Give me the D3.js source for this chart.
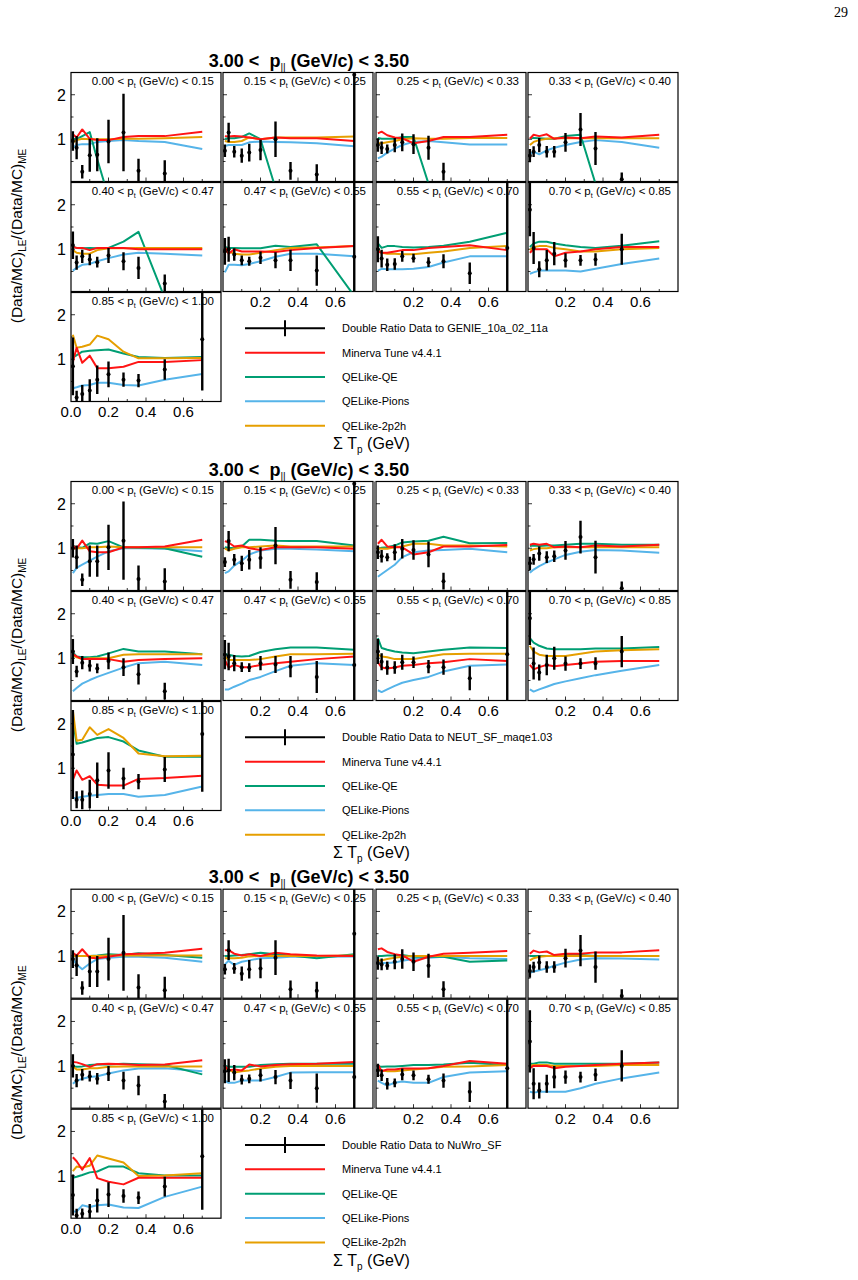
<!DOCTYPE html>
<html><head><meta charset="utf-8">
<script src="https://cdn.jsdelivr.net/npm/d3@7"></script>
<style>
body{margin:0;background:#fff}
svg{display:block}
text{font-family:"Liberation Sans",Arial,Helvetica,sans-serif;fill:#000}
</style>
</head><body>
<svg id="c" width="858" height="1280"></svg>
<script>
// ---------------- data ----------------
const xCenters = [0.01,0.03,0.06,0.10,0.14,0.20,0.28,0.36,0.50,0.70];
const ptEdges = ["0.00","0.15","0.25","0.33","0.40","0.47","0.55","0.70","0.85","1.00"];
const generators = ["GENIE_10a_02_11a","NEUT_SF_maqe1.03","NuWro_SF"];
const seriesNames = ["Minerva Tune v4.4.1","QELike-QE","QELike-Pions","QELike-2p2h"];
const seriesColors = ["#ff1414","#009e73","#56b4e9","#e69f00"];
const xTickVals = [0.0,0.2,0.4,0.6];
const yTickVals = [1,2];
const pZLabel = "3.00 < ";
const pZUpper = " (GeV/c) < 3.50";

// Block 1: GENIE
const genieRatio = [
 [0.96,0.81,0.27,0.64,0.65,0.95,1.15,0.29,0.23,null],
 [0.74,1.15,0.72,0.63,0.70,0.76,1.00,0.29,0.21,2.45],
 [0.87,0.81,0.78,0.87,0.93,0.89,0.81,0.27,null,null],
 [0.63,0.72,0.87,0.72,0.72,0.93,1.22,0.79,0.10,null],
 [1.09,0.70,0.84,0.77,0.71,0.86,0.73,0.58,0.23,null],
 [0.95,1.00,0.88,0.75,0.73,0.81,0.75,0.75,0.52,0.83],
 [1.00,0.79,0.65,0.67,0.84,0.80,0.71,0.73,0.46,1.03],
 [1.89,1.03,0.55,0.75,0.90,0.75,0.75,0.77,1.00,null],
 [0.84,0.14,0.22,0.30,0.54,0.66,0.54,0.52,0.77,1.45]];
const genieErr = [
 [0.22,0.26,0.15,0.37,0.37,0.49,0.87,0.27,0.30,null],
 [0.14,0.22,0.13,0.16,0.20,0.23,0.40,0.20,0.23,2.8],
 [0.15,0.14,0.10,0.16,0.20,0.22,0.27,0.20,null,null],
 [0.15,0.12,0.16,0.13,0.13,0.21,0.37,0.37,0.15,null],
 [0.31,0.16,0.15,0.13,0.12,0.17,0.20,0.25,0.20,null],
 [0.30,0.28,0.14,0.11,0.10,0.14,0.18,0.24,0.34,2.0],
 [0.29,0.20,0.14,0.13,0.12,0.10,0.11,0.16,0.24,2.0],
 [0.60,0.36,0.18,0.23,0.26,0.16,0.12,0.14,0.35,null],
 [0.65,0.15,0.20,0.25,0.32,0.29,0.16,0.15,0.23,1.15]];
const genieTune = [
 [1.11,1.04,1.22,1.01,0.98,0.98,1.05,1.07,1.07,1.17],
 [1.07,1.06,1.07,1.06,1.04,1.00,1.04,1.02,1.02,0.96],
 [1.13,1.17,1.09,1.04,1.02,0.91,0.96,1.05,1.05,1.10],
 [1.01,1.10,1.07,1.11,1.01,1.04,1.02,1.06,1.04,1.10],
 [1.05,1.03,1.03,0.98,1.03,1.03,1.03,1.00,1.00,1.00],
 [1.05,0.90,1.00,0.95,0.95,0.95,0.94,0.98,1.03,1.07],
 [0.95,0.92,0.92,0.95,0.98,0.98,1.03,1.05,1.09,0.98],
 [0.92,1.00,1.00,1.00,0.84,0.92,0.95,1.00,1.05,1.05],
 [0.94,1.26,0.92,1.08,0.80,0.80,0.83,0.94,0.94,0.98]];
const genieQE = [
 [1.01,1.00,1.07,1.16,0.55,-0.30,-1,-1,-1,-1],
 [1.01,1.02,1.02,1.05,1.13,1.00,-0.10,-1,-1,-1],
 [1.03,1.01,1.01,1.01,1.05,1.05,0.00,-1,-1,-1],
 [1.01,1.03,1.02,1.01,1.01,1.07,1.10,0.00,-1,-1],
 [1.05,1.03,1.02,1.03,1.02,1.03,1.17,1.39,-0.10,-1],
 [1.05,1.03,1.03,1.02,1.02,1.02,1.08,1.05,1.11,-0.05],
 [1.13,1.03,1.07,1.07,1.05,1.04,1.05,1.08,1.17,1.37],
 [1.05,1.13,1.17,1.17,1.13,1.09,1.05,1.03,1.08,1.18],
 [1.05,1.09,1.17,1.19,1.20,1.22,1.13,1.05,1.03,1.05]];
const geniePions = [
 [0.81,0.87,0.89,0.89,0.94,0.96,0.98,0.96,0.94,0.78],
 [0.85,0.87,0.87,0.87,0.93,0.95,0.94,0.93,0.91,0.84],
 [0.57,0.61,0.70,0.79,0.87,0.94,0.96,0.93,0.88,0.88],
 [0.66,0.72,0.66,0.75,0.81,0.87,0.94,0.98,0.94,0.81],
 [0.52,0.58,0.65,0.67,0.73,0.80,0.88,0.92,0.90,0.86],
 [0.48,0.65,0.65,0.64,0.67,0.73,0.83,0.90,0.90,0.84],
 [0.52,0.56,0.55,0.55,0.55,0.56,0.60,0.70,0.84,0.84],
 [0.45,0.48,0.52,0.52,0.52,0.52,0.50,0.56,0.67,0.79],
 [0.35,0.37,0.41,0.42,0.47,0.47,0.42,0.41,0.54,0.67]];
const genie2p2h = [
 [0.93,0.98,1.01,1.00,1.00,1.00,1.01,1.01,1.02,1.05],
 [0.96,0.94,0.94,0.96,1.04,1.00,1.04,1.04,1.04,1.06],
 [0.91,0.91,0.93,0.96,1.00,1.02,1.01,1.01,1.03,1.03],
 [0.87,0.94,0.98,1.01,1.02,1.02,1.02,1.02,1.02,1.02],
 [0.98,0.92,0.90,0.90,0.98,1.02,1.02,1.03,1.03,1.03],
 [0.95,0.95,0.90,0.88,0.88,0.92,0.98,1.03,1.04,1.07],
 [0.98,0.92,0.90,0.90,0.89,0.89,0.92,0.95,1.03,1.07],
 [0.98,1.05,1.07,1.07,1.03,1.00,0.95,0.95,1.00,1.03],
 [1.55,1.26,1.28,1.33,1.53,1.45,1.17,1.02,1.02,1.03]];

// Block 2: NEUT
const neutRatio = [
 [1.00,0.80,0.29,0.71,0.71,1.02,1.17,0.31,0.25,null],
 [0.69,1.16,0.74,0.66,0.74,0.78,1.06,0.29,0.24,2.45],
 [0.91,0.82,0.80,0.91,0.99,0.96,0.86,0.26,null,null],
 [0.66,0.75,0.88,0.80,0.82,0.95,1.25,0.80,0.10,null],
 [1.15,0.70,0.90,0.83,0.77,0.94,0.80,0.64,0.26,null],
 [1.08,1.04,0.89,0.80,0.79,0.89,0.86,0.81,0.58,0.85],
 [1.15,0.92,0.79,0.79,0.91,0.91,0.81,0.80,0.55,1.09],
 [1.90,0.88,0.68,0.85,1.00,0.88,0.88,0.88,1.15,null],
 [1.31,0.29,0.29,0.42,0.73,0.95,0.77,0.70,0.97,1.77]];
const neutErr = [
 [0.21,0.26,0.14,0.35,0.35,0.51,0.88,0.30,0.30,null],
 [0.11,0.23,0.13,0.17,0.22,0.24,0.42,0.20,0.22,2.8],
 [0.15,0.14,0.09,0.18,0.22,0.22,0.29,0.19,null,null],
 [0.15,0.12,0.16,0.13,0.13,0.21,0.37,0.37,0.15,null],
 [0.28,0.13,0.15,0.13,0.11,0.19,0.20,0.23,0.19,null],
 [0.33,0.31,0.18,0.11,0.10,0.16,0.19,0.24,0.36,2.0],
 [0.28,0.19,0.16,0.14,0.17,0.13,0.15,0.17,0.27,2.0],
 [0.60,0.36,0.18,0.23,0.26,0.16,0.12,0.14,0.35,null],
 [1.00,0.19,0.21,0.32,0.40,0.41,0.24,0.17,0.28,1.30]];
const neutTune = [
 [1.06,0.99,1.17,0.93,0.91,0.91,1.02,1.02,1.04,1.19],
 [1.16,1.13,1.04,1.06,1.00,0.96,1.02,1.02,1.02,0.99],
 [1.10,1.19,1.04,1.02,1.02,0.86,0.91,1.04,1.04,1.07],
 [1.08,1.10,1.08,1.10,1.02,1.04,1.02,1.06,1.04,1.08],
 [1.09,1.04,0.98,0.98,0.98,0.98,0.92,0.96,0.98,1.00],
 [0.96,0.79,0.85,0.80,0.80,0.85,0.89,0.92,0.98,1.04],
 [0.91,0.79,0.77,0.79,0.83,0.85,0.89,0.91,0.98,0.94],
 [0.85,0.75,0.80,0.85,0.82,0.85,0.88,0.92,0.94,0.94],
 [0.74,0.95,0.74,0.82,0.63,0.61,0.61,0.76,0.78,0.83]];
const neutQE = [
 [1.06,1.02,1.01,1.11,1.10,1.16,1.02,1.01,1.00,0.81],
 [1.02,1.01,1.00,1.04,1.19,1.19,1.17,1.16,1.16,1.06],
 [0.99,1.01,1.02,1.06,1.13,1.15,1.17,1.26,1.11,1.12],
 [1.05,1.06,1.05,1.06,1.06,1.08,1.10,1.10,1.08,1.08],
 [1.13,1.04,1.02,1.02,1.04,1.11,1.21,1.15,1.15,1.09],
 [1.09,1.08,1.05,1.04,1.05,1.14,1.20,1.24,1.24,1.19],
 [1.45,1.23,1.19,1.15,1.13,1.11,1.15,1.19,1.24,1.23],
 [1.45,1.35,1.28,1.22,1.20,1.20,1.20,1.22,1.22,1.25],
 [2.10,1.55,1.58,1.63,1.68,1.70,1.60,1.40,1.26,1.26]];
const neutPions = [
 [0.44,0.56,0.63,0.72,0.81,0.93,1.00,1.00,0.99,0.93],
 [0.44,0.48,0.61,0.72,0.86,0.95,0.99,0.99,0.97,0.93],
 [0.36,0.42,0.51,0.63,0.80,0.91,0.95,0.96,0.99,0.91],
 [0.45,0.52,0.60,0.68,0.75,0.85,0.92,0.96,0.95,0.90],
 [0.26,0.33,0.43,0.51,0.58,0.67,0.79,0.89,0.92,0.85],
 [0.30,0.30,0.36,0.43,0.51,0.58,0.71,0.83,0.89,0.85],
 [0.28,0.24,0.30,0.38,0.45,0.51,0.58,0.70,0.83,0.86],
 [0.30,0.25,0.30,0.36,0.42,0.48,0.55,0.62,0.72,0.85],
 [0.33,0.33,0.36,0.38,0.40,0.42,0.42,0.36,0.40,0.59]];
const neut2p2h = [
 [0.99,1.00,1.00,1.02,1.02,1.04,1.02,1.02,1.02,1.02],
 [0.99,0.95,0.99,1.02,1.02,1.04,1.06,1.04,1.04,1.04],
 [1.00,0.99,0.99,1.02,1.04,1.10,1.10,1.06,1.06,1.04],
 [0.95,0.98,1.00,1.00,1.02,1.02,1.02,1.02,1.02,1.02],
 [1.08,1.02,0.98,1.00,1.00,1.00,1.08,1.09,1.09,1.09],
 [1.04,0.96,0.96,0.96,0.96,0.98,1.04,1.09,1.09,1.10],
 [1.08,1.04,1.02,0.98,0.98,0.98,1.04,1.09,1.10,1.10],
 [1.28,1.15,1.08,1.05,1.05,1.05,1.10,1.15,1.18,1.20],
 [2.30,1.62,1.64,1.92,1.75,1.88,1.68,1.33,1.27,1.28]];

// Block 3: NuWro
const nuwroRatio = [
 [0.93,0.79,0.28,0.65,0.65,0.93,1.07,0.29,0.23,null],
 [0.70,1.13,0.72,0.60,0.70,0.72,0.96,0.25,0.22,1.50],
 [0.84,0.81,0.78,0.87,0.93,0.87,0.78,0.25,null,null],
 [0.66,0.75,0.85,0.75,0.75,0.95,1.12,0.75,0.10,null],
 [1.00,0.67,0.80,0.77,0.71,0.83,0.67,0.56,0.20,null],
 [0.88,0.90,0.85,0.69,0.71,0.79,0.75,0.67,0.50,0.75],
 [0.90,0.79,0.60,0.62,0.81,0.79,0.70,0.67,0.42,0.95],
 [1.55,0.60,0.45,0.60,0.75,0.75,0.75,0.80,1.00,null],
 [0.57,0.11,0.15,0.20,0.45,0.58,0.55,0.51,0.76,1.44]];
const nuwroErr = [
 [0.20,0.24,0.15,0.35,0.35,0.48,0.85,0.30,0.30,null],
 [0.12,0.22,0.12,0.16,0.21,0.22,0.39,0.20,0.20,2.5],
 [0.15,0.13,0.09,0.17,0.22,0.21,0.27,0.18,null,null],
 [0.15,0.12,0.16,0.13,0.13,0.21,0.35,0.35,0.15,null],
 [0.26,0.15,0.13,0.12,0.13,0.17,0.20,0.22,0.17,null],
 [0.27,0.26,0.17,0.11,0.10,0.14,0.16,0.19,0.33,2.0],
 [0.15,0.13,0.13,0.10,0.13,0.11,0.10,0.16,0.23,2.0],
 [0.70,0.35,0.18,0.20,0.25,0.15,0.12,0.14,0.35,null],
 [0.46,0.15,0.12,0.17,0.27,0.28,0.15,0.14,0.22,1.20]];
const nuwroTune = [
 [1.07,1.01,1.15,0.96,0.95,0.98,1.04,1.05,1.07,1.16],
 [1.13,1.13,1.05,1.01,1.04,1.00,1.07,1.04,1.01,1.00],
 [1.15,1.17,1.09,1.04,1.01,0.87,0.98,1.05,1.07,1.11],
 [1.05,1.12,1.08,1.10,1.02,1.05,1.05,1.08,1.08,1.13],
 [1.09,1.08,1.04,0.98,1.04,1.05,1.04,1.02,1.03,1.13],
 [1.00,0.90,0.92,0.90,1.03,0.99,1.02,1.04,1.05,1.09],
 [1.03,0.88,0.92,0.92,0.94,0.94,0.95,1.00,1.11,1.05],
 [0.95,1.00,1.00,1.00,0.95,0.98,1.00,1.02,1.05,1.08],
 [1.42,1.33,1.14,1.40,0.95,0.87,0.81,0.96,0.96,0.96]];
const nuwroQE = [
 [1.01,1.00,1.00,1.00,1.01,1.04,1.02,1.06,1.02,0.96],
 [1.00,1.00,1.01,1.02,1.04,1.07,1.04,1.01,0.95,1.04],
 [1.00,1.00,1.01,1.01,1.02,0.98,0.98,0.98,0.87,0.90],
 [1.00,1.00,1.00,1.00,1.00,1.02,1.02,1.00,1.00,1.00],
 [0.99,0.98,0.99,1.02,1.03,1.03,1.05,1.04,1.02,0.81],
 [1.00,0.98,0.98,0.98,0.98,1.02,1.04,1.05,1.05,1.05],
 [0.99,0.98,0.99,0.99,1.00,1.02,1.02,1.03,1.07,1.02],
 [1.05,1.05,1.08,1.08,1.05,1.05,1.05,1.05,1.05,1.08],
 [0.96,0.98,1.02,1.08,1.10,1.21,1.21,1.06,1.01,1.01]];
const nuwroPions = [
 [0.93,0.81,0.70,0.83,0.93,0.96,0.98,0.98,0.96,0.87],
 [0.81,0.89,0.80,0.87,0.90,0.95,0.96,0.98,0.98,0.99],
 [0.81,0.84,0.84,0.85,0.89,0.93,0.96,0.98,0.95,0.93],
 [0.62,0.65,0.68,0.72,0.78,0.85,0.92,0.95,0.94,0.92],
 [0.60,0.67,0.71,0.75,0.77,0.83,0.90,0.94,0.95,0.88],
 [0.67,0.62,0.62,0.67,0.67,0.67,0.75,0.85,0.86,0.86],
 [0.67,0.62,0.56,0.62,0.65,0.62,0.62,0.75,0.85,0.88],
 [0.42,0.40,0.42,0.42,0.42,0.42,0.50,0.60,0.72,0.85],
 [0.20,0.20,0.34,0.30,0.34,0.36,0.29,0.28,0.53,0.76]];
const nuwro2p2h = [
 [1.00,1.00,1.00,1.00,1.00,1.01,1.01,1.01,1.01,1.01],
 [0.95,0.95,0.95,0.96,0.99,1.00,1.00,1.00,1.00,1.01],
 [0.90,0.90,0.93,0.96,0.98,1.00,1.00,1.00,1.00,1.00],
 [0.90,0.95,0.98,1.00,1.00,1.00,1.00,1.00,1.00,1.00],
 [0.99,0.92,0.92,0.95,0.95,0.98,0.99,0.99,0.99,0.99],
 [0.95,0.92,0.85,0.88,0.90,0.94,0.98,1.00,1.00,1.00],
 [0.92,0.90,0.88,0.88,0.90,0.92,0.95,0.98,0.99,1.02],
 [1.00,1.02,1.02,1.02,1.00,1.00,1.00,1.00,1.02,1.02],
 [1.11,1.21,1.19,1.23,1.46,1.39,1.30,1.00,1.01,1.06]];

// ---------------- drawing ----------------
const blocks = [
  {gen: generators[0], ratio: genieRatio, err: genieErr, series: [genieTune, genieQE, geniePions, genie2p2h]},
  {gen: generators[1], ratio: neutRatio, err: neutErr, series: [neutTune, neutQE, neutPions, neut2p2h]},
  {gen: generators[2], ratio: nuwroRatio, err: nuwroErr, series: [nuwroTune, nuwroQE, nuwroPions, nuwro2p2h]}
];
const blockOffset = [0, 409, 816.7];
const colLeft = [71, 223, 376, 528];
const rowTop = [72.5, 182.5, 292.5];
const PW = 150, PH = 109;

const svg = d3.select("#c");
svg.append("rect").attr("width",858).attr("height",1280).attr("fill","#fff");

// page number
svg.append("text").attr("x",848).attr("y",17).attr("text-anchor","end")
  .style("font-family","'Liberation Serif','DejaVu Serif',serif").style("font-size","14px").text("29");

const xs = d3.scaleLinear().domain([0,0.8]).range([0,PW]);
const ys = d3.scaleLinear().domain([0.05,2.5]).range([PH,0]);

let clipId = 0;
const drawOrder = [2,1,3,0]; // pions, QE, 2p2h, tune (tune on top)

blocks.forEach((blk, b) => {
  const off = blockOffset[b];
  const g = svg.append("g").attr("transform",`translate(0,${off})`);

  // title
  const t = g.append("text").attr("x",309).attr("y",66.5).attr("text-anchor","middle")
    .style("font-weight","bold").style("font-size","18px");
  t.append("tspan").text(pZLabel + "\u00A0p");
  t.append("tspan").attr("dy",4).style("font-size","10px").style("font-weight","normal").text("||");
  t.append("tspan").attr("dy",-4).text(pZUpper);

  // y-axis title
  const yt = g.append("text").attr("transform","translate(22,236) rotate(-90)")
    .attr("text-anchor","middle").style("font-size","15.5px");
  yt.append("tspan").text("(Data/MC)");
  yt.append("tspan").attr("dy",4).style("font-size","10px").text("LE");
  yt.append("tspan").attr("dy",-4).text("/(Data/MC)");
  yt.append("tspan").attr("dy",4).style("font-size","10px").text("ME");

  for (let i = 0; i < 9; i++) {
    const row = Math.floor(i/4), col = i % 4;
    const px = colLeft[col], py = rowTop[row];
    const pg = g.append("g").attr("transform",`translate(${px},${py})`);
    const cid = "clip" + (clipId++);
    pg.append("clipPath").attr("id",cid).append("rect").attr("width",PW).attr("height",PH);

    // frame
    pg.append("rect").attr("width",PW).attr("height",PH).attr("fill","none")
      .attr("stroke","#000").attr("stroke-width",1.2);

    // ticks
    const tk = pg.append("g").attr("stroke","#000").attr("stroke-width",0.8);
    d3.range(1,8).forEach(k => {
      const v = k/10, len = (k%2===0) ? 4 : 2.5;
      tk.append("line").attr("x1",xs(v)).attr("x2",xs(v)).attr("y1",PH).attr("y2",PH-len);
    });
    [0.5,1,1.5,2].forEach(v => {
      const len = Number.isInteger(v) ? 4 : 2.5;
      tk.append("line").attr("x1",0).attr("x2",len).attr("y1",ys(v)).attr("y2",ys(v));
    });

    const cg = pg.append("g").attr("clip-path",`url(#${cid})`);
    // model lines
    drawOrder.forEach(s => {
      const vals = blk.series[s][i];
      const line = d3.line().x((d,k) => xs(xCenters[k])).y(d => ys(d));
      cg.append("path").attr("d", line(vals)).attr("fill","none")
        .attr("stroke", seriesColors[s]).attr("stroke-width",2).attr("stroke-linejoin","round");
    });
    // data
    const pts = blk.ratio[i].map((v,k) => ({x:xCenters[k], v:v, e:blk.err[i][k]})).filter(d => d.v !== null);
    cg.selectAll("line.eb").data(pts).enter().append("line")
      .attr("x1",d => xs(d.x)).attr("x2",d => xs(d.x))
      .attr("y1",d => ys(d.v - d.e)).attr("y2",d => ys(d.v + d.e))
      .attr("stroke","#000").attr("stroke-width",2.4);
    cg.selectAll("circle").data(pts).enter().append("circle")
      .attr("cx",d => xs(d.x)).attr("cy",d => ys(d.v)).attr("r",2).attr("fill","#000");

    // panel label
    const lab = pg.append("text").attr("x",PW-7).attr("y",12.5).attr("text-anchor","end").style("font-size","11.5px");
    lab.append("tspan").text(ptEdges[i] + " < p");
    lab.append("tspan").attr("dy",3).style("font-size","7px").text("t");
    lab.append("tspan").attr("dy",-3).text(" (GeV/c) < " + ptEdges[i+1]);

    // y tick labels
    if (col === 0) {
      yTickVals.forEach(v => {
        pg.append("text").attr("x",-5).attr("y",ys(v)).attr("dy","0.36em")
          .attr("text-anchor","end").style("font-size","16px").text(v);
      });
    }
    // x tick labels
    if (i === 8 || (row === 1 && col > 0)) {
      xTickVals.forEach(v => {
        if (i !== 8 && v === 0) return;
        pg.append("text").attr("x",xs(v)).attr("y",PH+15.5).attr("text-anchor","middle")
          .style("font-size","15px").text(d3.format(".1f")(v));
      });
    }
  }

  // gray seam between columns 2 and 3
  g.append("line").attr("x1",374.5).attr("x2",374.5).attr("y1",rowTop[0]).attr("y2",rowTop[1]+PH)
    .attr("stroke","#777").attr("stroke-width",2.5);

  // legend
  const lg = g.append("g");
  const legY = d3.scaleLinear().domain([0,4]).range([328.3, 425.7]);
  const legNames = ["Double Ratio Data to " + blk.gen].concat(seriesNames);
  const legCols = ["#000"].concat(seriesColors);
  legNames.forEach((nm, k) => {
    const y = legY(k);
    lg.append("line").attr("x1",245).attr("x2",325).attr("y1",y).attr("y2",y)
      .attr("stroke",legCols[k]).attr("stroke-width",2);
    if (k === 0) {
      lg.append("line").attr("x1",285).attr("x2",285).attr("y1",y-8).attr("y2",y+8)
        .attr("stroke","#000").attr("stroke-width",2);
    }
    lg.append("text").attr("x",342).attr("y",y).attr("dy","0.35em").style("font-size","11px").text(nm);
  });

  // x-axis title
  const xt = g.append("text").attr("x",333).attr("y",449).style("font-size","16px");
  xt.append("tspan").text("\u03A3 T");
  xt.append("tspan").attr("dy",4).style("font-size","10px").text("p");
  xt.append("tspan").attr("dy",-4).text(" (GeV)");
});
</script>
</body></html>
